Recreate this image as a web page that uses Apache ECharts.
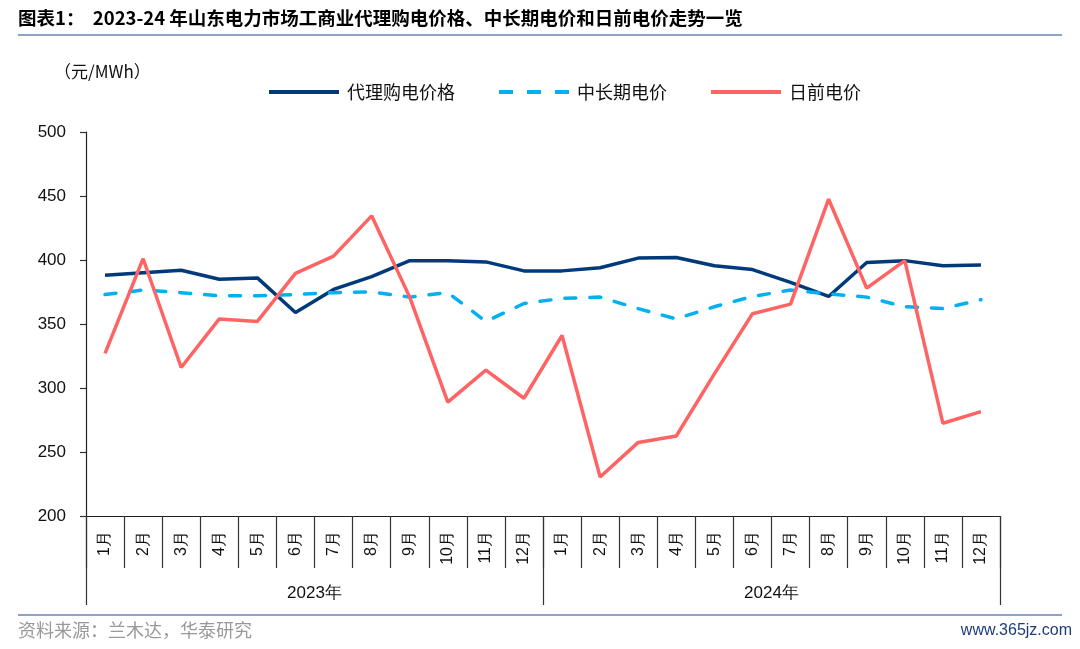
<!DOCTYPE html>
<html><head><meta charset="utf-8">
<script src="https://cdn.jsdelivr.net/npm/echarts@6/dist/echarts.min.js"></script>
<style>html,body{margin:0;padding:0;background:#fff}#c{width:1080px;height:649px}</style>
</head><body><div id="c"></div>
<script>
const months = ['1月','2月','3月','4月','5月','6月','7月','8月','9月','10月','11月','12月','1月','2月','3月','4月','5月','6月','7月','8月','9月','10月','11月','12月'];
const years = ['2023年','2024年'];
const agentPrice = [388,390,392,385,386,359,377,387,399.5,399.5,398.5,391.5, 391.5,394,401.5,402,395.5,392.5,382.5,371.5,398,399.5,395.5,396];
const midLongPrice = [373,376.5,374.5,372,372,373,374.5,375,371,374.5,352,366, 370,371,362,354,363.5,371.5,376.5,373.5,371,363.5,362,369];
const dayAheadPrice = [327,401,316,354,352,389.5,403,434.5,371,289,314,292, 341,230.5,257.5,262.5,311,358,365.5,447.5,378,399.5,272.5,281.5];
const yTicks = [200,250,300,350,400,450,500];

const chart = echarts.init(document.getElementById('c'));
const cjk = "'Noto Sans CJK SC', sans-serif";
const lat = "'Liberation Sans', Arial, sans-serif";
const solidIcon = 'path://M0,0h70v4h-70z';
const dashIcon = 'path://M0,0h14v4h-14z M28,0h14v4h-14z M56,0h14v4h-14z';
chart.setOption({
  animation:false,
  backgroundColor:'#fff',
  grid:{left:86,right:80,top:132,bottom:133,containLabel:false},
  legend:{
    top:78,left:264,itemWidth:70,itemHeight:4,itemGap:44,
    textStyle:{fontFamily:cjk,fontSize:18,color:'#111',padding:[0,0,0,3]},
    data:[{name:'代理购电价格',icon:solidIcon},{name:'中长期电价',icon:dashIcon},{name:'日前电价',icon:solidIcon}]
  },
  xAxis:[{
    type:'category',data:months,position:'bottom',boundaryGap:true,
    axisLine:{show:true,lineStyle:{color:'#222',width:1.2}},
    axisTick:{show:true,inside:false,interval:0,length:52,lineStyle:{color:'#333',width:1.2}},
    axisLabel:{show:true,interval:0,rotate:90,margin:15,fontFamily:lat,fontSize:16,color:'#111'},
    splitLine:{show:false}
  },{
    type:'category',data:years,position:'bottom',boundaryGap:true,offset:0,
    axisLine:{show:false},
    axisTick:{show:true,inside:false,interval:0,length:89,lineStyle:{color:'#333',width:1.2}},
    axisLabel:{show:true,margin:69,fontFamily:lat,fontSize:17,color:'#111'},
    splitLine:{show:false}
  }],
  yAxis:{
    type:'value',min:200,max:500,interval:50,
    axisLine:{show:true,lineStyle:{color:'#222',width:1.2}},
    axisTick:{show:true,inside:false,length:6,lineStyle:{color:'#333',width:1.2}},
    axisLabel:{fontFamily:lat,fontSize:17,color:'#111',margin:20,
      formatter:v=>yTicks.includes(v)?String(v):''},
    splitLine:{show:false}
  },
  series:[
    {name:'代理购电价格',type:'line',data:agentPrice,symbol:'none',
     lineStyle:{color:'#003A7A',width:3.5},itemStyle:{color:'#003A7A'}},
    {name:'中长期电价',type:'line',data:midLongPrice,symbol:'none',
     lineStyle:{color:'#00B0F0',width:3.5,type:[11,14],cap:'round'},itemStyle:{color:'#00B0F0'}},
    {name:'日前电价',type:'line',data:dayAheadPrice,symbol:'none',
     lineStyle:{color:'#FF6464',width:3.5},itemStyle:{color:'#FF6464'}}
  ],
  graphic:[
    {type:'text',left:18,top:9,style:{text:'图表1：  2023-24 年山东电力市场工商业代理购电价格、中长期电价和日前电价走势一览',
      font:"bold 18.5px 'Noto Sans CJK SC', sans-serif",fill:'#000'}},
    {type:'line',shape:{x1:18,y1:35,x2:1062,y2:35},style:{stroke:'#8CA5C6',lineWidth:2}},
    {type:'text',left:54,top:63,style:{text:'（元/MWh）',font:"17px 'Noto Sans CJK SC', sans-serif",fill:'#111'}},
    {type:'line',shape:{x1:18,y1:615,x2:1062,y2:615},style:{stroke:'#8CA5C6',lineWidth:2}},
    {type:'text',left:18,top:621,style:{text:'资料来源：兰木达，华泰研究',font:"18px 'Noto Sans CJK SC', sans-serif",fill:'#999'}},
    {type:'text',right:8,top:623,style:{text:'www.365jz.com',font:"16px 'Liberation Sans Narrow', 'Liberation Sans', sans-serif",fill:'#1F3C7A'}}
  ]
});
</script></body></html>
